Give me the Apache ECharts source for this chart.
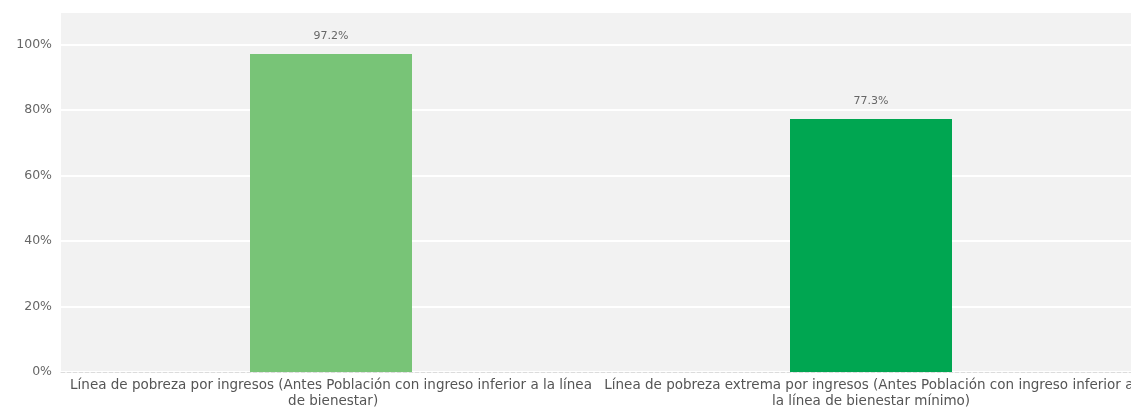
<!DOCTYPE html>
<html><head><meta charset="utf-8">
<script src="https://cdn.jsdelivr.net/npm/echarts@6/dist/echarts.min.js"></script>
<style>html,body{margin:0;padding:0;background:#fff}#c{width:1131px;height:417px}</style>
</head><body><div id="c"></div>
<script>
const categories = [
  "Línea de pobreza por ingresos (Antes Población con ingreso inferior a la línea de bienestar)",
  "Línea de pobreza extrema por ingresos (Antes Población con ingreso inferior a la línea de bienestar mínimo)"
];
const values = [97.2, 77.3];
const barColors = ["#78c477", "#00a651"];
const yTicks = [0, 20, 40, 60, 80, 100];

const chart = echarts.init(document.getElementById('c'));
chart.setOption({
  animation: false,
  grid: { left: 61, width: 1080, top: 12, bottom: 45, show: true, backgroundColor: '#f2f2f2', borderWidth: 0, outerBoundsMode: 'none', containLabel: false },
  xAxis: {
    type: 'category', data: categories,
    axisLine: { show: true, lineStyle: { color: '#dcdcdc', type: 'dashed' } },
    axisTick: { show: false },
    axisLabel: { interval: 0, width: 552, overflow: 'break', hideOverlap: false, color: '#555', fontFamily: 'DejaVu Sans', fontSize: 13.5, lineHeight: 16, margin: 5 }
  },
  yAxis: {
    type: 'value', min: 0, max: 110, interval: 20,
    axisLine: { show: false }, axisTick: { show: false },
    splitLine: { lineStyle: { color: '#ffffff', width: 2 } },
    axisLabel: { showMaxLabel: false, formatter: v => yTicks.includes(v) ? v + '%' : '', color: '#666', fontFamily: 'DejaVu Sans', fontSize: 12.5, margin: 9 }
  },
  series: [{
    type: 'bar', barWidth: '30%',
    data: values.map((v, i) => ({ value: v, itemStyle: { color: barColors[i] } })),
    label: { show: true, position: 'top', distance: 12, formatter: p => p.value + '%', color: '#666', fontFamily: 'DejaVu Sans', fontSize: 11 }
  }]
});
</script></body></html>
